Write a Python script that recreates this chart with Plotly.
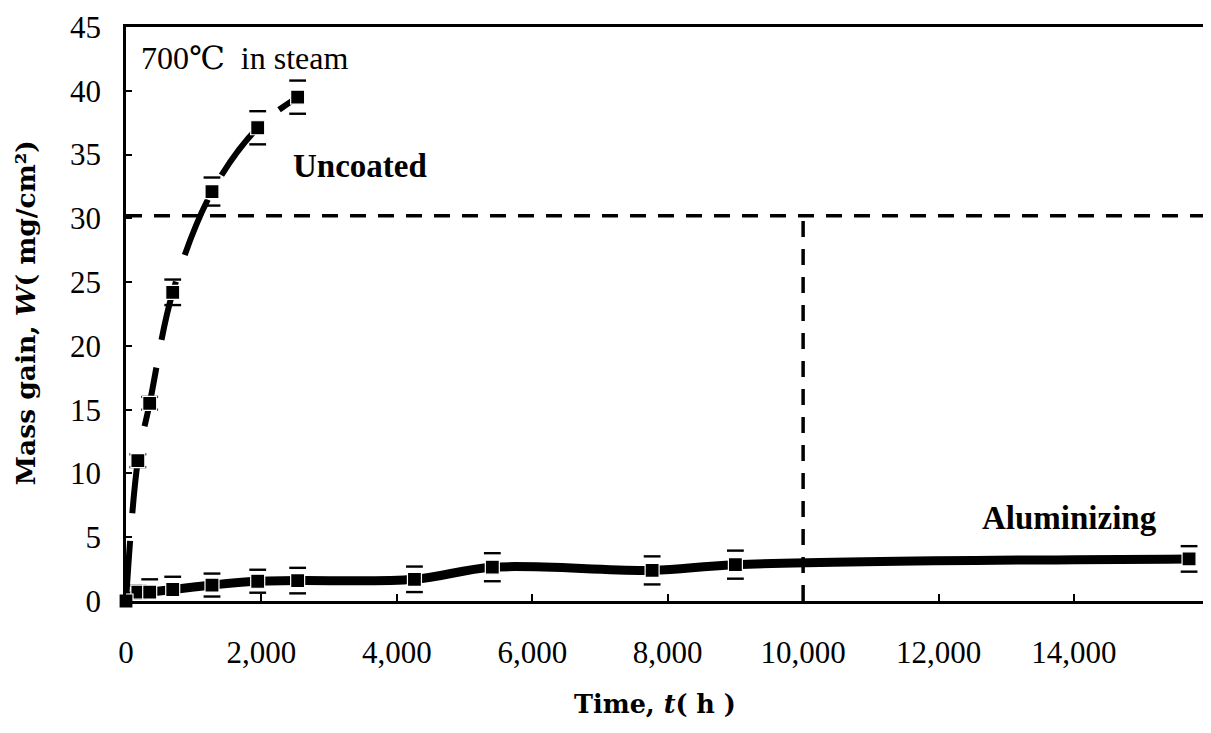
import plotly.graph_objects as go

# ---- data ----
uncoated_time = [0, 175, 350, 690, 1270, 1945, 2535]
uncoated_gain = [0, 11.0, 15.5, 24.2, 32.1, 37.1, 39.5]
uncoated_err = [0, 0.5, 0.5, 1.0, 1.1, 1.3, 1.3]

alum_time = [0, 175, 350, 690, 1270, 1945, 2535, 4260, 5410, 7770, 9000, 15700]
alum_gain = [0, 0.7, 0.7, 0.9, 1.25, 1.55, 1.6, 1.7, 2.65, 2.4, 2.85, 3.3]
alum_err = [0, 0.5, 1.0, 1.0, 0.9, 0.9, 1.0, 1.0, 1.1, 1.1, 1.1, 1.0]

x_max = 15950
y_max = 45
x_ticks = [0, 2000, 4000, 6000, 8000, 10000, 12000, 14000]
y_ticks = [0, 5, 10, 15, 20, 25, 30, 35, 40, 45]

limit_gain = 30.2
limit_time = 10000

serif = "Liberation Serif, DejaVu Serif, serif"
title_font = "DejaVu Serif, Liberation Serif, serif"

fig = go.Figure()

# reference dashed lines
fig.add_trace(go.Scatter(
    x=[0, x_max], y=[limit_gain, limit_gain], mode="lines",
    line=dict(color="black", width=3.5, dash="16px,12px"),
    showlegend=False, hoverinfo="skip"))
fig.add_trace(go.Scatter(
    x=[limit_time, limit_time], y=[0, limit_gain], mode="lines",
    line=dict(color="black", width=3.5, dash="16px,12px"),
    showlegend=False, hoverinfo="skip"))


def add_series(t, w, err, name, line):
    fig.add_trace(go.Scatter(
        x=t, y=w, mode="lines", name=name, line=line,
        showlegend=False, cliponaxis=False))
    # error-bar caps (stems are hidden in the reference)
    caps_t = [ti for ti, e in zip(t, err) if e > 0] * 2
    caps_w = [wi + e for wi, e in zip(w, err) if e > 0] + \
             [wi - e for wi, e in zip(w, err) if e > 0]
    fig.add_trace(go.Scatter(
        x=caps_t, y=caps_w, mode="markers", hoverinfo="skip",
        marker=dict(symbol="line-ew", size=12, line=dict(color="black", width=2.4)),
        showlegend=False, cliponaxis=False))
    fig.add_trace(go.Scatter(
        x=t, y=w, mode="markers", name=name,
        marker=dict(symbol="square", size=14, color="black",
                    line=dict(color="white", width=1.2)),
        showlegend=False, cliponaxis=False))


add_series(alum_time, alum_gain, alum_err, "Aluminizing",
           dict(color="black", width=9, shape="spline", smoothing=1))
add_series(uncoated_time, uncoated_gain, uncoated_err, "Uncoated",
           dict(color="black", width=6, shape="spline", smoothing=1, dash="60px,28px"))

# page body has an 8px margin: shift the figure so the plot area lands where the reference has it
off = 8
fig.update_layout(
    width=1211 - off, height=733 - off,
    margin=dict(l=126 - off, r=2, t=23 - off, b=132),
    paper_bgcolor="white", plot_bgcolor="white",
    font=dict(family=serif, color="black", size=30),
    xaxis=dict(range=[0, x_max], tickvals=x_ticks, tickformat=",",
               ticks="inside", ticklen=7, tickwidth=2, tickcolor="black",
               showline=True, linewidth=2.5, linecolor="black", mirror=True,
               showgrid=False, zeroline=False, ticklabeloverflow="allow",
               tickfont=dict(family=serif, size=31), ticklabelstandoff=22),
    yaxis=dict(range=[0, y_max], tickvals=y_ticks,
               ticks="inside", ticklen=6, tickwidth=2, tickcolor="black",
               showline=True, linewidth=2.5, linecolor="black", mirror=True,
               showgrid=False, zeroline=False, ticklabeloverflow="allow",
               tickfont=dict(family=serif, size=31), ticklabelstandoff=16),
    annotations=[
        dict(text="700℃  in steam", x=192, y=42.6, xref="x", yref="y",
             xanchor="left", yanchor="middle", showarrow=False,
             font=dict(family=serif, size=32)),
        dict(text="<b>Uncoated</b>", x=3450, y=34.1, xref="x", yref="y",
             xanchor="center", yanchor="middle", showarrow=False,
             font=dict(family="Liberation Serif, serif", size=33)),
        dict(text="<b>Aluminizing</b>", x=13930, y=6.5, xref="x", yref="y",
             xanchor="center", yanchor="middle", showarrow=False,
             font=dict(family="Liberation Serif, serif", size=33)),
        dict(text="<b>Time, <i>t</i>( h )</b>", x=(656 - 126) / 1083, y=(601 - 705) / 578,
             xref="paper", yref="paper", xanchor="center", yanchor="middle",
             showarrow=False, font=dict(family=title_font, size=25.5)),
        dict(text="<b>Mass gain, <i>W</i>( mg/cm²)</b>",
             x=(25 - 126) / 1083, y=(601 - 311) / 578, xref="paper", yref="paper",
             xanchor="center", yanchor="middle", textangle=-90,
             showarrow=False, font=dict(family=title_font, size=26.5)),
    ],
)

fig.write_html("out.html")
